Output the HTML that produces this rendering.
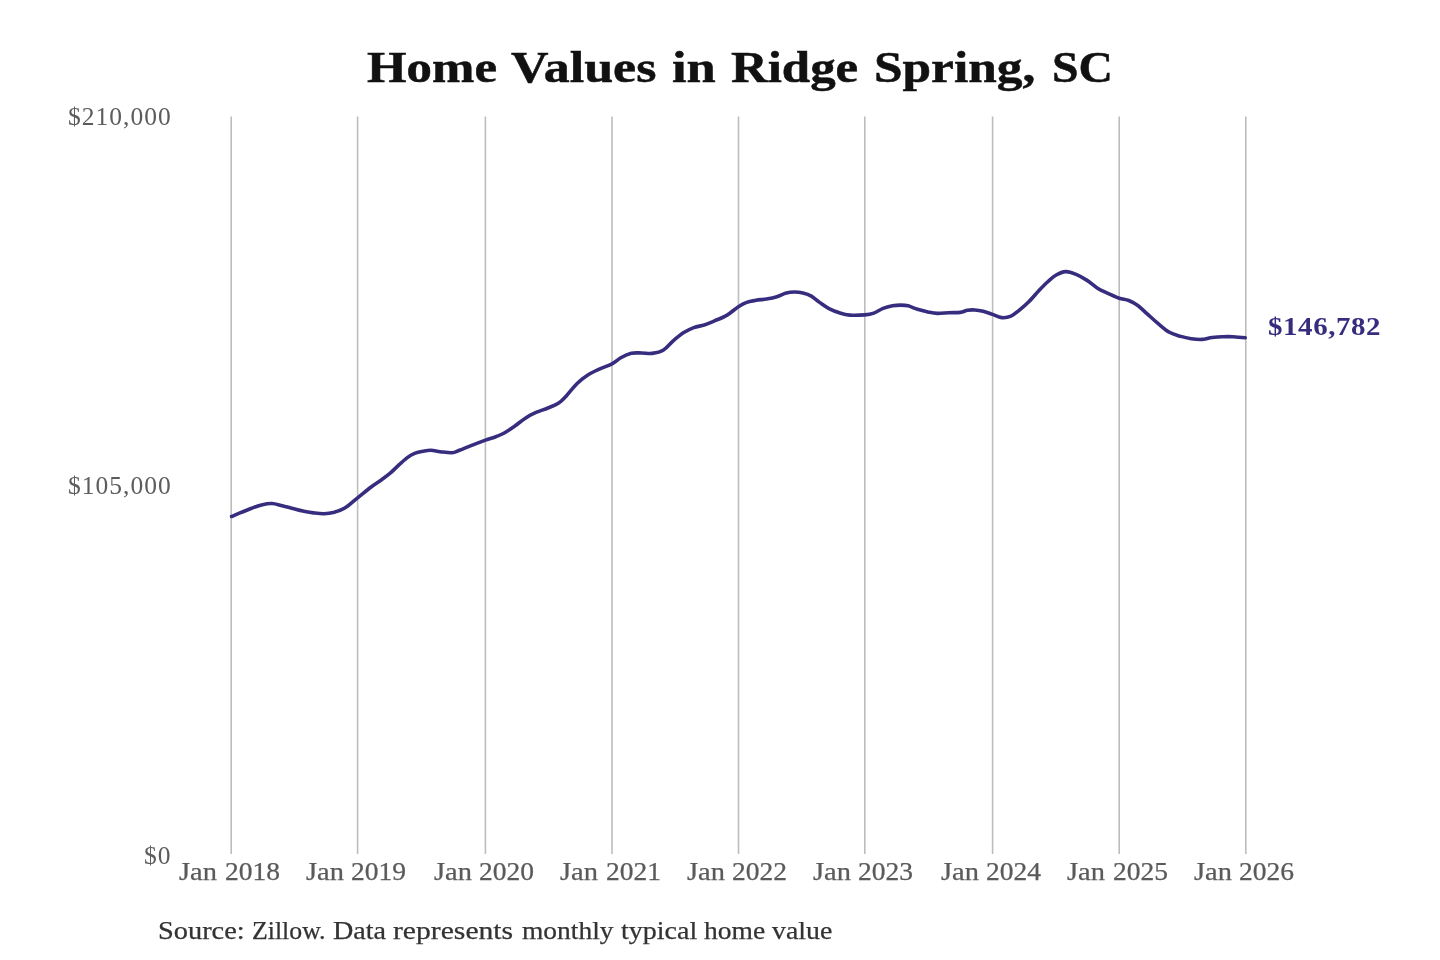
<!DOCTYPE html>
<html><head><meta charset="utf-8"><title>Home Values in Ridge Spring, SC</title>
<style>
html,body{margin:0;padding:0;background:#fff;}
body{width:1440px;height:960px;position:relative;overflow:hidden;font-family:"Liberation Serif",serif;}
svg{position:absolute;left:0;top:0;}
.row{position:absolute;left:0;width:1440px;white-space:nowrap;line-height:1;will-change:transform;}
.row span{position:absolute;top:0;left:0;white-space:nowrap;transform-origin:0 50%;}
#title{top:45.7px;height:44px;font-size:44px;font-weight:bold;color:#111;-webkit-text-stroke:0.5px #111;}
.xl{position:absolute;left:0;width:1440px;height:24.2px;white-space:nowrap;line-height:1;will-change:transform;font-size:24.2px;color:#5a5a5a;-webkit-text-stroke:0.25px #5a5a5a;}
.xl span{position:absolute;top:0;left:0;white-space:nowrap;transform-origin:0 50%;}
#src{top:918.7px;height:24.5px;font-size:24.5px;color:#333;-webkit-text-stroke:0.25px #333;}
.yl{position:absolute;white-space:nowrap;line-height:1;will-change:transform;right:1268.5px;font-size:25.5px;color:#5c5c5c;transform:scaleX(1.0);transform-origin:100% 50%;letter-spacing:1.0px;}
#end{position:absolute;white-space:nowrap;line-height:1;will-change:transform;left:1268.2px;top:315.4px;font-size:24.5px;font-weight:bold;color:#372d7e;transform:scaleX(1.18);transform-origin:0 50%;letter-spacing:0.5px;}
</style></head><body>
<svg width="1440" height="960" viewBox="0 0 1440 960">
<g stroke="#bdbdbd" stroke-width="1.6"><line x1="231.2" y1="116.5" x2="231.2" y2="854.1"/><line x1="357.6" y1="116.5" x2="357.6" y2="854.1"/><line x1="485.4" y1="116.5" x2="485.4" y2="854.1"/><line x1="612.0" y1="116.5" x2="612.0" y2="854.1"/><line x1="738.5" y1="116.5" x2="738.5" y2="854.1"/><line x1="864.8" y1="116.5" x2="864.8" y2="854.1"/><line x1="992.6" y1="116.5" x2="992.6" y2="854.1"/><line x1="1119.2" y1="116.5" x2="1119.2" y2="854.1"/><line x1="1245.8" y1="116.5" x2="1245.8" y2="854.1"/></g>
<path d="M231.6 516.5C233.1 515.9 237.4 514.0 240.6 512.7C243.8 511.4 247.5 509.8 251.0 508.5C254.5 507.2 258.0 505.7 261.5 504.9C265.0 504.1 268.4 503.4 271.9 503.5C275.4 503.6 278.8 504.9 282.3 505.7C285.8 506.5 289.2 507.6 292.7 508.5C296.2 509.4 299.6 510.4 303.1 511.1C306.6 511.8 310.0 512.5 313.5 512.9C317.0 513.3 320.5 513.8 324.0 513.7C327.5 513.6 330.9 513.1 334.4 512.2C337.9 511.2 340.9 510.4 344.8 508.0C348.7 505.6 353.3 501.2 357.6 497.8C361.9 494.4 366.9 490.3 370.8 487.3C374.8 484.3 378.2 482.3 381.3 480.0C384.4 477.7 386.8 476.0 389.6 473.7C392.4 471.4 394.9 468.6 397.9 465.9C400.8 463.2 404.5 459.7 407.3 457.6C410.1 455.5 412.0 454.5 414.6 453.4C417.2 452.4 420.3 451.8 423.0 451.3C425.7 450.8 428.1 450.2 431.0 450.3C433.9 450.4 436.7 451.3 440.2 451.7C443.7 452.1 448.8 453.0 452.0 452.8C455.2 452.6 456.4 451.4 459.4 450.3C462.4 449.2 465.4 447.8 469.8 446.1C474.2 444.4 481.2 441.7 485.5 440.1C489.8 438.5 492.7 437.9 495.8 436.7C498.9 435.5 501.1 434.8 504.2 433.0C507.3 431.2 511.1 428.6 514.6 426.2C518.1 423.8 521.5 420.7 525.0 418.4C528.5 416.2 531.6 414.4 535.4 412.7C539.2 411.0 544.1 409.6 547.9 408.0C551.7 406.4 555.2 405.4 558.3 403.3C561.4 401.2 563.6 398.8 566.7 395.5C569.8 392.2 573.6 386.9 577.1 383.5C580.6 380.1 583.7 377.6 587.5 375.2C591.3 372.8 595.9 370.8 600.0 368.9C604.1 367.0 608.5 365.8 612.0 363.9C615.5 362.1 617.6 359.6 620.8 357.8C624.0 356.0 627.8 354.1 631.3 353.3C634.8 352.5 638.2 353.0 641.7 353.0C645.2 353.0 648.5 353.9 652.1 353.4C655.7 352.9 660.0 352.1 663.5 350.0C667.0 347.9 669.6 344.0 672.9 341.1C676.2 338.2 679.8 335.1 683.3 332.8C686.8 330.6 690.3 328.9 693.8 327.6C697.3 326.3 700.7 326.1 704.2 325.0C707.7 323.9 710.8 322.4 714.6 320.8C718.4 319.2 723.1 317.5 727.1 315.1C731.1 312.8 735.1 308.8 738.4 306.7C741.7 304.6 743.8 303.5 746.7 302.4C749.6 301.3 752.7 300.9 756.0 300.3C759.3 299.7 763.0 299.6 766.5 299.0C770.0 298.4 773.6 297.7 776.9 296.7C780.2 295.7 783.3 293.8 786.3 293.0C789.2 292.2 791.8 292.0 794.6 292.0C797.4 292.0 800.1 292.3 802.9 293.0C805.7 293.7 808.5 294.5 811.3 296.1C814.1 297.7 816.6 300.3 819.6 302.4C822.6 304.5 825.7 306.9 829.0 308.6C832.3 310.3 835.9 311.7 839.4 312.8C842.9 313.9 845.6 314.8 849.8 315.1C854.0 315.5 860.8 315.2 864.8 314.9C868.8 314.6 870.8 314.2 873.8 313.1C876.8 312.0 880.0 309.6 883.1 308.4C886.2 307.2 889.5 306.4 892.5 305.8C895.5 305.2 898.2 305.1 900.8 305.1C903.4 305.1 905.3 305.1 908.1 305.8C910.9 306.5 914.2 308.3 917.5 309.3C920.8 310.3 924.6 311.2 927.9 311.9C931.2 312.6 933.8 313.3 937.3 313.4C940.8 313.5 945.0 312.9 948.8 312.7C952.6 312.5 957.1 312.8 960.2 312.4C963.3 312.0 965.1 310.7 967.5 310.3C969.9 309.9 972.2 309.8 974.8 310.0C977.4 310.2 980.1 310.6 983.1 311.3C986.1 312.0 989.5 313.4 992.6 314.4C995.7 315.5 998.6 317.3 1001.7 317.6C1004.8 317.9 1008.0 317.4 1011.0 316.1C1014.0 314.9 1016.4 312.5 1019.4 310.1C1022.4 307.7 1025.5 305.1 1028.8 301.8C1032.1 298.5 1036.1 293.6 1039.2 290.3C1042.3 287.0 1044.7 284.5 1047.5 282.0C1050.3 279.5 1052.8 276.9 1055.8 275.2C1058.8 273.5 1062.4 271.8 1065.7 271.6C1069.0 271.4 1072.0 272.7 1075.6 274.2C1079.2 275.7 1083.4 278.1 1087.1 280.4C1090.8 282.7 1094.0 286.0 1097.5 288.2C1101.0 290.4 1104.3 291.7 1107.9 293.4C1111.5 295.1 1115.7 297.0 1119.2 298.2C1122.7 299.4 1125.7 299.2 1128.8 300.5C1131.9 301.8 1135.0 303.4 1138.1 305.7C1141.2 308.0 1144.2 311.2 1147.5 314.1C1150.8 317.1 1154.2 320.4 1157.9 323.4C1161.6 326.4 1165.6 330.1 1169.4 332.3C1173.2 334.5 1177.2 335.3 1180.8 336.4C1184.4 337.5 1187.8 338.2 1191.3 338.7C1194.8 339.2 1198.2 339.6 1201.7 339.4C1205.2 339.2 1208.6 337.9 1212.1 337.5C1215.6 337.1 1219.0 336.8 1222.5 336.7C1226.0 336.6 1229.1 336.5 1232.9 336.7C1236.7 336.9 1243.2 337.5 1245.2 337.7" fill="none" stroke="#372d7e" stroke-width="3.6" stroke-linejoin="round" stroke-linecap="round"/>
</svg>
<div id="title" class="row"><span style="left:367.19px;transform:scaleX(1.1567)">Home</span> <span style="left:510.72px;transform:scaleX(1.1810)">Values</span> <span style="left:671.71px;transform:scaleX(1.1926)">in</span> <span style="left:731.19px;transform:scaleX(1.1558)">Ridge</span> <span style="left:873.89px;transform:scaleX(1.1670)">Spring,</span> <span style="left:1052.14px;transform:scaleX(1.0834)">SC</span></div>
<div class="yl" style="top:103.7px">$210,000</div>
<div class="yl" style="top:473.2px">$105,000</div>
<div class="yl" style="top:843.2px">$0</div>
<div class="xl" style="top:859.5px"><span style="left:179.47px;transform:scaleX(1.1775)">Jan</span> <span style="left:224.80px;transform:scaleX(1.1379)">2018</span></div><div class="xl" style="top:859.5px"><span style="left:305.87px;transform:scaleX(1.1775)">Jan</span> <span style="left:351.20px;transform:scaleX(1.1379)">2019</span></div><div class="xl" style="top:859.5px"><span style="left:433.67px;transform:scaleX(1.1775)">Jan</span> <span style="left:479.00px;transform:scaleX(1.1379)">2020</span></div><div class="xl" style="top:859.5px"><span style="left:560.27px;transform:scaleX(1.1775)">Jan</span> <span style="left:605.60px;transform:scaleX(1.1379)">2021</span></div><div class="xl" style="top:859.5px"><span style="left:686.77px;transform:scaleX(1.1775)">Jan</span> <span style="left:732.10px;transform:scaleX(1.1379)">2022</span></div><div class="xl" style="top:859.5px"><span style="left:813.07px;transform:scaleX(1.1775)">Jan</span> <span style="left:858.40px;transform:scaleX(1.1379)">2023</span></div><div class="xl" style="top:859.5px"><span style="left:940.87px;transform:scaleX(1.1775)">Jan</span> <span style="left:986.20px;transform:scaleX(1.1379)">2024</span></div><div class="xl" style="top:859.5px"><span style="left:1067.47px;transform:scaleX(1.1775)">Jan</span> <span style="left:1112.80px;transform:scaleX(1.1379)">2025</span></div><div class="xl" style="top:859.5px"><span style="left:1194.07px;transform:scaleX(1.1775)">Jan</span> <span style="left:1239.40px;transform:scaleX(1.1379)">2026</span></div>
<div id="end">$146,782</div>
<div id="src" class="row"><span style="left:158.00px;transform:scaleX(1.1579)">Source:</span> <span style="left:252.16px;transform:scaleX(1.0526)">Zillow.</span> <span style="left:333.21px;transform:scaleX(1.1481)">Data</span> <span style="left:393.41px;transform:scaleX(1.2094)">represents</span> <span style="left:522.10px;transform:scaleX(1.1205)">monthly</span> <span style="left:620.95px;transform:scaleX(1.1427)">typical</span> <span style="left:704.04px;transform:scaleX(1.1235)">home</span> <span style="left:771.81px;transform:scaleX(1.1353)">value</span></div>
</body></html>
